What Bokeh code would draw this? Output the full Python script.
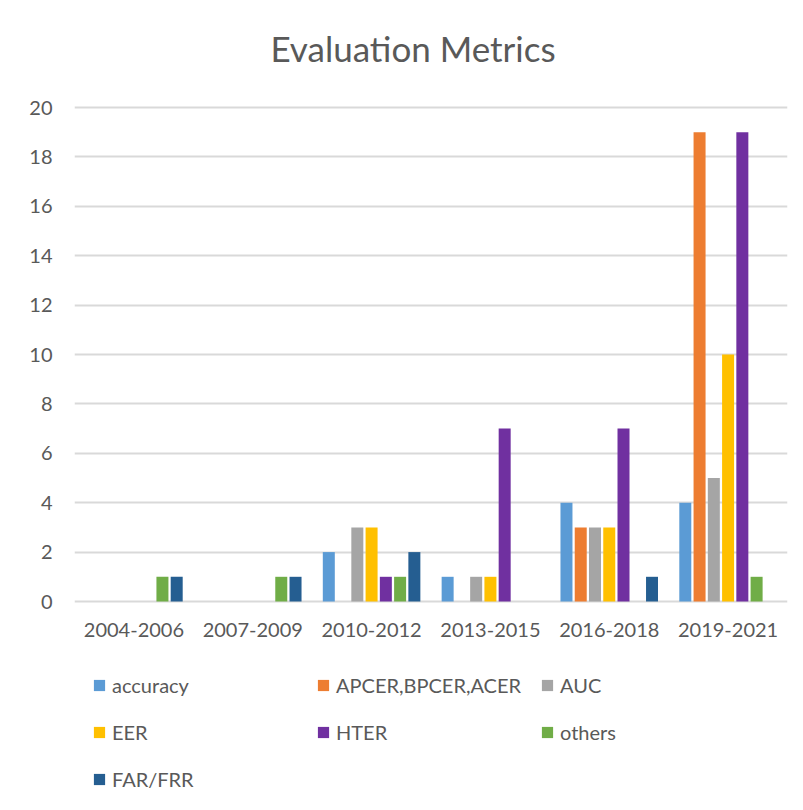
from bokeh.plotting import figure
from bokeh.models import ColumnDataSource, FactorRange, Legend, LegendItem, Range1d, FixedTicker, Label
from bokeh.transform import dodge
from bokeh.embed import file_html
from bokeh.resources import INLINE

periods = ["2004-2006", "2007-2009", "2010-2012", "2013-2015", "2016-2018", "2019-2021"]
series_names = ["accuracy", "APCER,BPCER,ACER", "AUC", "EER", "HTER", "others", "FAR/FRR"]
accuracy = [0, 0, 2, 1, 4, 4]
apcer = [0, 0, 0, 0, 3, 19]
auc = [0, 0, 3, 1, 3, 5]
eer = [0, 0, 3, 1, 3, 10]
hter = [0, 0, 1, 7, 7, 19]
others = [1, 1, 1, 0, 0, 1]
far_frr = [1, 1, 2, 0, 1, 0]
y_ticks = [0, 2, 4, 6, 8, 10, 12, 14, 16, 18, 20]

colors = ["#5B9BD5", "#ED7D31", "#A5A5A5", "#FFC000", "#7030A0", "#70AD47", "#255E91"]
values = [accuracy, apcer, auc, eer, hter, others, far_frr]

FONT = "Lato"
TXT = "#595959"

# layout geometry (pixels)
FRAME_TOP, FRAME_W, FRAME_H = 20, 713, 774
AXIS_TOP, AXIS_BOTTOM = 107, 601     # pixel rows of the values 20 and 0
PX_PER_UNIT = (AXIS_BOTTOM - AXIS_TOP) / 20
y_max = 20 + (AXIS_TOP - FRAME_TOP) / PX_PER_UNIT
y_min = -((FRAME_TOP + FRAME_H) - AXIS_BOTTOM) / PX_PER_UNIT

source = ColumnDataSource(dict(period=periods, **{f"s{i}": v for i, v in enumerate(values)}))

p = figure(x_range=FactorRange(*periods, range_padding=0),
           y_range=Range1d(y_min, y_max), output_backend="svg", toolbar_location=None,
           frame_width=FRAME_W, frame_height=FRAME_H,
           min_border_left=74, min_border_right=8, min_border_top=FRAME_TOP, min_border_bottom=0)
p.outline_line_color = None
p.background_fill_color = "white"
p.border_fill_color = "white"

renderers = []
pitch = 0.12
for i, (name, col) in enumerate(zip(series_names, colors)):
    r = p.vbar(x=dodge("period", (i - 3) * pitch, range=p.x_range), top=f"s{i}", width=0.101,
               source=source, fill_color=col, line_color=None)
    renderers.append(r)

p.xgrid.grid_line_color = None
p.ygrid.grid_line_color = "#D9D9D9"
p.ygrid.grid_line_width = 2
p.yaxis.ticker = FixedTicker(ticks=y_ticks)
for ax in (p.xaxis, p.yaxis):
    ax.axis_line_color = None
    ax.major_tick_line_color = None
    ax.minor_tick_line_color = None
    ax.major_tick_in = 0
    ax.major_tick_out = 0
    ax.major_label_text_font = FONT
    ax.major_label_text_font_size = "20px"
    ax.major_label_text_color = TXT
p.yaxis.major_label_standoff = 22
p.xaxis.major_label_standoff = 21
p.xaxis.fixed_location = 0

title = Label(x=len(periods) / 2, y=20, x_offset=-18, y_offset=60, text="Evaluation Metrics",
              text_font=FONT, text_font_size="35px", text_color=TXT,
              text_align="center", text_baseline="alphabetic")
p.add_layout(title)

legend = Legend(items=[LegendItem(label=n, renderers=[r]) for n, r in zip(series_names, renderers)],
                location=(18, 0), orientation="horizontal", ncols=3,
                glyph_width=14, glyph_height=14, label_standoff=6, label_width=187,
                spacing=17, padding=0, margin=0, border_line_color=None,
                background_fill_alpha=0,
                label_text_font=FONT, label_text_font_size="20px", label_text_color=TXT,
                label_height=30)
p.add_layout(legend, "center")

open("out.html", "w").write(file_html(p, INLINE))
